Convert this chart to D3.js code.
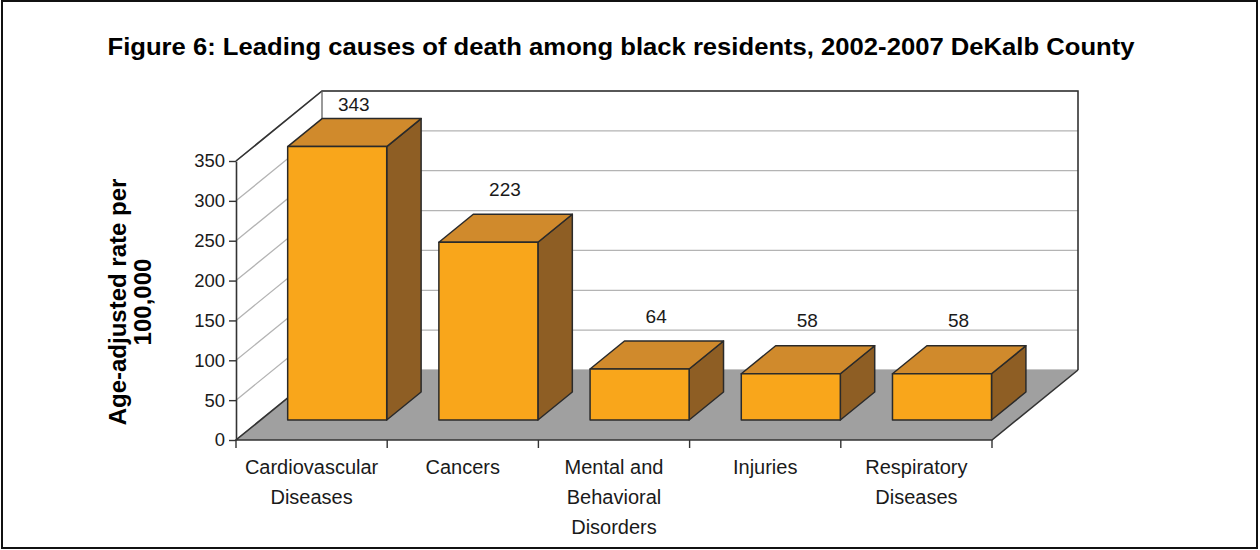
<!DOCTYPE html>
<html>
<head>
<meta charset="utf-8">
<script src="https://cdn.jsdelivr.net/npm/d3@7"></script>
<style>
  html, body { margin: 0; padding: 0; background: #fff; }
  svg { display: block; font-family: "Liberation Sans", Arial, sans-serif; }
</style>
</head>
<body>
<svg id="chart" width="1260" height="550"></svg>
<script>
// ---- data ----
const categories = ["Cardiovascular Diseases", "Cancers", "Mental and Behavioral Disorders", "Injuries", "Respiratory Diseases"];
const categoryLines = [["Cardiovascular", "Diseases"], ["Cancers"], ["Mental and", "Behavioral", "Disorders"], ["Injuries"], ["Respiratory", "Diseases"]];
const values = [343, 223, 64, 58, 58];
const yTicks = [0, 50, 100, 150, 200, 250, 300, 350];
const titleText = "Figure 6: Leading causes of death among black residents, 2002-2007 DeKalb County";
const yTitleLines = ["Age-adjusted rate per", "100,000"];

// ---- layout ----
const W = 1260, H = 550;
const plotLeft = 236, plotRight = 992, plotBottom = 440, plotTop = 161;
const depthX = 86, depthY = -70;
const dFront = 0.286, dBack = 0.686;
const barFrac = 0.655;

const svg = d3.select("#chart");

const x = d3.scaleBand().domain(categories).range([plotLeft, plotRight]).padding(0);
const y = d3.scaleLinear().domain([0, 350]).range([plotBottom, plotTop]);
const proj = (px, v, d) => [px + depthX * d, y(v) + depthY * d];
const pts = arr => arr.map(p => p.join(",")).join(" ");

// border
svg.append("rect").attr("x", 2).attr("y", 1).attr("width", 1255).attr("height", 547)
  .attr("fill", "#fff").attr("stroke", "#111").attr("stroke-width", 2);

// title
svg.append("text").attr("x", 621).attr("y", 55).attr("text-anchor", "middle")
  .attr("font-size", 24.5).attr("font-weight", "bold").attr("fill", "#000")
  .attr("textLength", 1027).attr("lengthAdjust", "spacingAndGlyphs").text(titleText);

// walls
const yMax = 350;
svg.append("polygon").attr("points", pts([proj(plotLeft, 0, 0), proj(plotLeft, yMax, 0), proj(plotLeft, yMax, 1), proj(plotLeft, 0, 1)]))
  .attr("fill", "#fff");
svg.append("polygon").attr("points", pts([proj(plotLeft, 0, 1), proj(plotLeft, yMax, 1), proj(plotRight, yMax, 1), proj(plotRight, 0, 1)]))
  .attr("fill", "#fff");

// gridlines
const grid = svg.append("g").attr("stroke", "#b4b4b4").attr("stroke-width", 1.3).attr("fill", "none");
yTicks.forEach(t => {
  const a = proj(plotLeft, t, 0), b = proj(plotLeft, t, 1), c = proj(plotRight, t, 1);
  grid.append("polyline").attr("points", pts([a, b, c]));
});

// wall edges
const edges = svg.append("g").attr("stroke", "#333").attr("stroke-width", 1.6).attr("fill", "none");
edges.append("polyline").attr("points", pts([proj(plotLeft, yMax, 0), proj(plotLeft, yMax, 1), proj(plotRight, yMax, 1), proj(plotRight, 0, 1)]));
edges.append("line").attr("stroke", "#555").attr("stroke-width", 1.2)
  .attr("x1", proj(plotLeft, yMax, 1)[0]).attr("y1", proj(plotLeft, yMax, 1)[1])
  .attr("x2", proj(plotLeft, 0, 1)[0]).attr("y2", proj(plotLeft, 0, 1)[1]);

// floor
svg.append("polygon").attr("points", pts([proj(plotLeft, 0, 0), proj(plotRight, 0, 0), proj(plotRight, 0, 1), proj(plotLeft, 0, 1)]))
  .attr("fill", "#a0a0a0").attr("stroke", "none");
svg.append("polyline").attr("points", pts([proj(plotLeft, 0, 1), proj(plotLeft, 0, 0), proj(plotRight, 0, 0), proj(plotRight, 0, 1)]))
  .attr("fill", "none").attr("stroke", "#333").attr("stroke-width", 1.6);

// y axis
const yAxis = d3.axisLeft(y).tickValues(yTicks).tickSize(7).tickSizeOuter(0).tickPadding(4);
const gy = svg.append("g").attr("transform", `translate(${plotLeft},0)`).call(yAxis);
gy.select(".domain").attr("stroke", "#333").attr("stroke-width", 1.6);
gy.selectAll(".tick line").attr("stroke", "#333").attr("stroke-width", 1.4);
gy.selectAll(".tick text").attr("font-size", 18.5).attr("fill", "#1a1a1a")
  .attr("font-family", "'Liberation Sans', Arial, sans-serif");

// x ticks at band boundaries
const bounds = categories.map(c => x(c)).concat([plotRight]);
svg.append("g").selectAll("line").data(bounds).join("line")
  .attr("x1", d => d).attr("x2", d => d).attr("y1", plotBottom).attr("y2", plotBottom + 8)
  .attr("stroke", "#333").attr("stroke-width", 1.4);

// bars
const bw = x.bandwidth();
const barW = bw * barFrac;
const bars = svg.append("g");
categories.forEach((c, i) => {
  const v = values[i];
  const xl = x(c) + (bw - barW) / 2 + 1, xr = xl + barW;
  const g = bars.append("g").attr("stroke", "#2a2a2a").attr("stroke-width", 1.5).attr("stroke-linejoin", "round");
  g.append("polygon").attr("points", pts([proj(xr, 0, dFront), proj(xr, v, dFront), proj(xr, v, dBack), proj(xr, 0, dBack)]))
    .attr("fill", "#8e5e24");
  g.append("polygon").attr("points", pts([proj(xl, v, dFront), proj(xr, v, dFront), proj(xr, v, dBack), proj(xl, v, dBack)]))
    .attr("fill", "#d08a2c");
  g.append("polygon").attr("points", pts([proj(xl, 0, dFront), proj(xr, 0, dFront), proj(xr, v, dFront), proj(xl, v, dFront)]))
    .attr("fill", "#f9a61b");
});

// value labels
svg.append("g").selectAll("text").data(categories).join("text")
  .attr("x", c => x(c) + bw / 2 + depthX * 0.49)
  .attr("y", (c, i) => Math.max(proj(0, values[i], 0.5)[1] - 38, 104))
  .attr("dy", "0.35em").attr("text-anchor", "middle").attr("font-size", 19).attr("fill", "#1a1a1a")
  .text((c, i) => values[i]);

// category labels
const cl = svg.append("g");
categories.forEach((c, i) => {
  const t = cl.append("text").attr("x", x(c) + bw / 2).attr("y", 474).attr("text-anchor", "middle")
    .attr("font-size", 20).attr("fill", "#1a1a1a");
  categoryLines[i].forEach((ln, j) => {
    t.append("tspan").attr("x", x(c) + bw / 2).attr("dy", j === 0 ? 0 : 30).text(ln);
  });
});

// y axis title
const yt = svg.append("text").attr("transform", "translate(126,302) rotate(-90)").attr("text-anchor", "middle")
  .attr("font-size", 24).attr("font-weight", "bold").attr("fill", "#000");
yTitleLines.forEach((ln, j) => {
  yt.append("tspan").attr("x", 0).attr("dy", j === 0 ? 0 : 25).text(ln);
});
</script>
</body>
</html>
